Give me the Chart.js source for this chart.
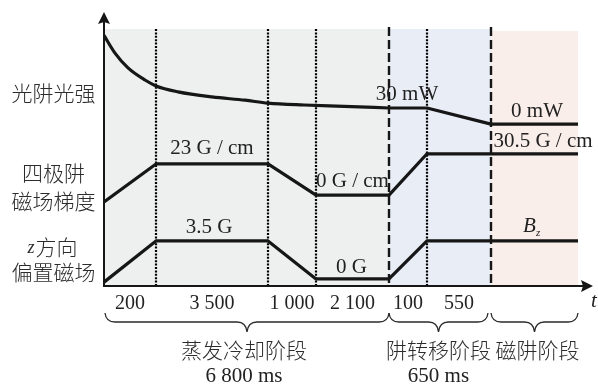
<!DOCTYPE html>
<html>
<head>
<meta charset="utf-8">
<script src="https://cdn.jsdelivr.net/npm/chart.js@4.4.1/dist/chart.umd.min.js"></script>
<style>
  html, body { margin: 0; padding: 0; background: #fff; }
  canvas { display: block; }
</style>
</head>
<body>
<canvas id="seq" width="598" height="384"></canvas>
<script>
// Interval durations (ms) printed under the time axis
const durationLabels = ['200', '3 500', '1 000', '2 100', '100', '550'];
// Drawn width of each interval on the schematic (not-to-scale) time axis; the last one is the magnetic-trap stage
const segmentSpan = [5.2, 11.2, 4.8, 7.3, 3.8, 6.4, 8.7];

// Stages under the braces
const stageNames = ['蒸发冷却阶段', '阱转移阶段', '磁阱阶段'];
const stageDurations = ['6 800 ms', '650 ms', ''];

// Optical-trap power (mW): evaporation decay samples, then hold / ramp-down / off
const lightDecayT = [0, 1.1, 2.4, 4.1, 5.2, 7.4, 10.8, 14.1, 16.4, 20.0, 24.0, 28.5];
const lightDecayMw = [165, 132, 104.5, 82, 71, 60, 50.5, 44.5, 39, 35.5, 33, 30];
const lightTailMw = [30, 30, 0, 0];

// Quadrupole gradient (G/cm) and z bias field (G) at every interval boundary
const gradientGcm = [-5, 23, 23, 0, 0, 30.5, 30.5, 30.5];
const biasG = [-0.3, 3.5, 3.5, 0, 0, 3.5, 3.5, 3.5];

// interval boundaries on the time axis
const bounds = segmentSpan.reduce((acc, w) => { acc.push(+(acc[acc.length - 1] + w).toFixed(2)); return acc; }, [0]);
const tickCenters = durationLabels.map((_, i) => (bounds[i] + bounds[i + 1]) / 2);

// each trace lives in its own band of the shared vertical axis
const lightTrack = mw => 59.3 + mw * 0.197;
const gradTrack = g => 33.3 + g * 0.496;
const biasTrack = b => 2.6 + b * 3.97;

const INK = '#161616';
const TEXT = '#222';
const CJK_TEXT = '#2c2c2c';
const SERIF = '"Liberation Serif", "Times New Roman", serif';
const CJK = '"Noto Sans CJK SC", "Noto Sans CJK JP", sans-serif';
const CJK_FONT = '300 21px ' + CJK;

const traceStyle = {
  borderColor: INK, borderWidth: 3.2, pointRadius: 0, showLine: true,
  fill: false, borderJoinStyle: 'round', borderCapStyle: 'butt'
};

const datasets = [
  Object.assign({ data: lightDecayT.map((t, i) => ({ x: t, y: lightTrack(lightDecayMw[i]) })),
    cubicInterpolationMode: 'monotone' }, traceStyle),
  Object.assign({ data: [4, 5, 6, 7].map((b, i) => ({ x: bounds[b], y: lightTrack(lightTailMw[i]) })) }, traceStyle),
  Object.assign({ data: bounds.map((t, i) => ({ x: t, y: gradTrack(gradientGcm[i]) })) }, traceStyle),
  Object.assign({ data: bounds.map((t, i) => ({ x: t, y: biasTrack(biasG[i]) })) }, traceStyle)
];

const schematic = {
  id: 'schematic',
  beforeDatasetsDraw(chart) {
    const { ctx, chartArea: a, scales: { x } } = chart;
    const px = v => x.getPixelForValue(v);
    const top = a.top + 16;
    ctx.save();
    // stage shading
    ctx.fillStyle = '#eef0ef';
    ctx.fillRect(px(bounds[0]), top, px(bounds[4]) - px(bounds[0]), a.bottom - top);
    ctx.fillStyle = '#e9edf5';
    ctx.fillRect(px(bounds[4]), top, px(bounds[6]) - px(bounds[4]), a.bottom - top);
    ctx.fillStyle = '#f9eeea';
    ctx.fillRect(px(bounds[6]), top + 2, px(bounds[7]) - px(bounds[6]), a.bottom - top - 2);

    // step boundaries (dotted) and stage boundaries (dashed)
    ctx.strokeStyle = '#000';
    [1, 2, 3, 5].forEach(i => {
      ctx.lineWidth = 2.2;
      ctx.setLineDash([2, 1.4]);
      ctx.beginPath();
      ctx.moveTo(Math.round(px(bounds[i])), top);
      ctx.lineTo(Math.round(px(bounds[i])), a.bottom);
      ctx.stroke();
    });
    ctx.strokeStyle = INK;
    [4, 6].forEach(i => {
      ctx.lineWidth = 2.4;
      ctx.setLineDash([9, 4]);
      ctx.beginPath();
      ctx.moveTo(Math.round(px(bounds[i])), top - 2);
      ctx.lineTo(Math.round(px(bounds[i])), a.bottom);
      ctx.stroke();
    });
    ctx.restore();
  },
  afterDatasetsDraw(chart) {
    const { ctx, chartArea: a, scales: { x, y } } = chart;
    const px = v => x.getPixelForValue(v);
    const py = v => y.getPixelForValue(v);
    ctx.save();

    // axes with arrow heads
    ctx.strokeStyle = INK;
    ctx.fillStyle = INK;
    ctx.lineWidth = 2;
    ctx.setLineDash([]);
    ctx.beginPath();
    ctx.moveTo(a.left, a.bottom);
    ctx.lineTo(a.left, a.top + 8);
    ctx.moveTo(a.left - 1, a.bottom);
    ctx.lineTo(a.right + 6, a.bottom);
    ctx.stroke();
    ctx.beginPath();
    ctx.moveTo(a.left, a.top - 1);
    ctx.lineTo(a.left - 6, a.top + 11);
    ctx.lineTo(a.left, a.top + 9);
    ctx.lineTo(a.left + 6, a.top + 11);
    ctx.closePath();
    ctx.fill();
    ctx.beginPath();
    ctx.moveTo(a.right + 15, a.bottom);
    ctx.lineTo(a.right + 3, a.bottom - 6);
    ctx.lineTo(a.right + 5, a.bottom);
    ctx.lineTo(a.right + 3, a.bottom + 6);
    ctx.closePath();
    ctx.fill();

    ctx.fillStyle = TEXT;
    ctx.font = 'italic 21px ' + SERIF;
    ctx.textAlign = 'left';
    ctx.textBaseline = 'alphabetic';
    ctx.fillText('t', a.right + 13, a.bottom + 21);

    // value labels, placed above the level they describe
    const tags = [
      { text: '23 G / cm', x: tickCenters[1], y: gradTrack(23), dx: 0, dy: -10 },
      { text: '3.5 G', x: tickCenters[1], y: biasTrack(3.5), dx: -3, dy: -8 },
      { text: '0 G / cm', x: tickCenters[3], y: gradTrack(0), dx: 0, dy: -8 },
      { text: '0 G', x: tickCenters[3], y: biasTrack(0), dx: -1, dy: -6 },
      { text: '30 mW', x: tickCenters[4], y: lightTrack(30), dx: -1, dy: -8 },
      { text: '0 mW', x: (bounds[6] + bounds[7]) / 2, y: lightTrack(0), dx: 2.5, dy: -7 },
      { text: '30.5 G / cm', x: (bounds[6] + bounds[7]) / 2, y: gradTrack(30.5), dx: 8.5, dy: -7 }
    ];
    ctx.font = '21px ' + SERIF;
    ctx.textAlign = 'center';
    tags.forEach(t => ctx.fillText(t.text, px(t.x) + t.dx, py(t.y) + t.dy));

    // B_z tag for the trap-stage bias
    const bx = px(bounds[6]) + 32, by = py(biasTrack(3.5)) - 9;
    ctx.textAlign = 'left';
    ctx.font = 'italic 21px ' + SERIF;
    ctx.fillText('B', bx, by);
    ctx.font = 'italic 11px ' + SERIF;
    ctx.fillText('z', bx + 13, by + 4);

    // trace names on the left
    const mid = a.left - 50.5;
    ctx.fillStyle = CJK_TEXT;
    ctx.font = CJK_FONT;
    ctx.textAlign = 'center';
    ctx.textBaseline = 'middle';
    ctx.fillText('光阱光强', mid, py(70.6));
    ctx.fillText('四极阱', mid, py(41.4));
    ctx.fillText('磁场梯度', mid, py(31.2));
    ctx.fillText('偏置磁场', mid, py(5.1));
    ctx.font = 'italic 18px ' + SERIF;
    const zw = ctx.measureText('z').width;
    ctx.font = CJK_FONT;
    const fw = ctx.measureText('方向').width;
    const start = mid - 1 - (zw + fw + 1) / 2;
    ctx.textAlign = 'left';
    ctx.fillText('方向', start + zw + 1, py(14.3));
    ctx.font = 'italic 18px ' + SERIF;
    ctx.textBaseline = 'alphabetic';
    ctx.fillText('z', start, py(14.3) + 6);

    // braces under the time axis, one per stage
    const stages = [[0, 4], [4, 6], [6, 7]];
    const nameShift = [-3, 0, 3];
    const bTop = a.bottom + 27, bMid = a.bottom + 36, bTip = a.bottom + 46;
    ctx.strokeStyle = '#2a2a2a';
    ctx.lineWidth = 1.3;
    stages.forEach(([s, e], k) => {
      const x1 = px(bounds[s]) + (k === 0 ? 1 : 0);
      const x2 = px(bounds[e]) - (k === 1 ? 3 : 0);
      const xm = (x1 + x2) / 2;
      const r = 10;
      ctx.beginPath();
      ctx.moveTo(x1, bTop);
      ctx.quadraticCurveTo(x1 + 1, bMid, x1 + r, bMid);
      ctx.lineTo(xm - r, bMid);
      ctx.quadraticCurveTo(xm - 1, bMid, xm, bTip);
      ctx.quadraticCurveTo(xm + 1, bMid, xm + r, bMid);
      ctx.lineTo(x2 - r, bMid);
      ctx.quadraticCurveTo(x2 - 1, bMid, x2, bTop);
      ctx.stroke();

      ctx.fillStyle = CJK_TEXT;
      ctx.textAlign = 'center';
      ctx.textBaseline = 'middle';
      ctx.font = CJK_FONT;
      ctx.fillText(stageNames[k], xm + nameShift[k], a.bottom + 64);
      if (stageDurations[k]) {
        ctx.fillStyle = TEXT;
        ctx.textBaseline = 'alphabetic';
        ctx.font = '21px ' + SERIF;
        ctx.fillText(stageDurations[k], xm + nameShift[k], a.bottom + 96);
      }
    });
    ctx.restore();
  }
};

new Chart(document.getElementById('seq'), {
  type: 'scatter',
  data: { datasets },
  options: {
    responsive: false,
    animation: false,
    devicePixelRatio: 1,
    layout: { padding: { left: 104, right: 20, top: 13, bottom: 0 } },
    plugins: { legend: { display: false }, tooltip: { enabled: false } },
    scales: {
      x: {
        type: 'linear',
        min: bounds[0],
        max: bounds[bounds.length - 1],
        grid: { display: false, drawTicks: false },
        border: { display: false },
        afterBuildTicks: scale => { scale.ticks = tickCenters.map(v => ({ value: v })); },
        afterFit: scale => { scale.height = 98; },
        ticks: {
          autoSkip: false,
          maxRotation: 0,
          padding: 6,
          color: TEXT,
          font: { family: SERIF, size: 20 },
          callback: (value, index) => durationLabels[index]
        }
      },
      y: { type: 'linear', min: 0, max: 100, display: false }
    }
  },
  plugins: [schematic]
});
</script>
</body>
</html>
